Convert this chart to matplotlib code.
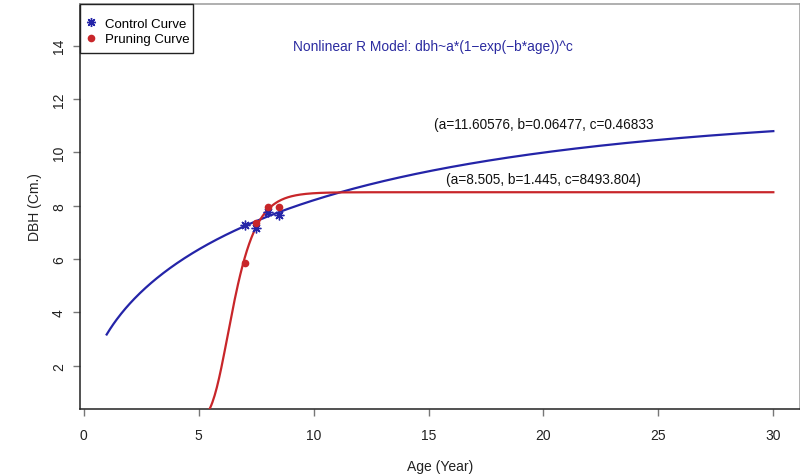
import numpy as np
import matplotlib
matplotlib.use("Agg")
import matplotlib.pyplot as plt
from matplotlib.lines import Line2D
from matplotlib.patches import Rectangle

plt.rcParams['font.family'] = ['Liberation Sans', 'DejaVu Sans']

# Observed mean DBH by age
ages = [7.0, 7.5, 8.0, 8.5]
control_dbh = [7.28, 7.17, 7.75, 7.67]
pruning_dbh = [5.87, 7.37, 7.94, 7.97]

# Fitted model parameters dbh = a*(1-exp(-b*age))^c
control_params = [11.60576, 0.06477, 0.46833]
pruning_params = [8.505, 1.445, 8493.804]
age_range = [1, 30]

x_ticks = [0, 5, 10, 15, 20, 25, 30]
y_ticks = [2, 4, 6, 8, 10, 12, 14]

BLUE = '#2424A8'
RED = '#C8262A'
TXTBLUE = '#2B2BA0'

def model(age, p):
    a, b, c = p
    return a * (1 - np.exp(-b * age)) ** c

fig = plt.figure(figsize=(8.0, 4.77), dpi=100)
ax = fig.add_axes([0.1, 1 - 410 / 477, 0.9, (410 - 5) / 477])

age_grid = np.linspace(age_range[0], age_range[1], 600)
ax.plot(age_grid, model(age_grid, control_params), color=BLUE, lw=1.6, zorder=3)
ax.plot(age_grid, model(age_grid, pruning_params), color=RED, lw=1.6, zorder=3)

ax.plot(ages, control_dbh, linestyle='none', marker=(8, 2, 0), markersize=7,
        markeredgewidth=1.0, color=BLUE, zorder=4)
ax.plot(ages, pruning_dbh, linestyle='none', marker='o', markersize=5.5,
        color=RED, markeredgewidth=0, zorder=4)

ax.set_xlim(-0.16, 31.16)
ax.set_ylim(0.38, 15.56)
ax.set_xticks(x_ticks)
ax.set_yticks(y_ticks)
ax.tick_params(axis='both', direction='out', length=5, width=1, color='#777777',
               labelsize=10, labelcolor='#222222')
ax.tick_params(axis='x', pad=8.5)
ax.tick_params(axis='y', pad=5)
for lab in ax.get_yticklabels():
    lab.set_rotation(90)
    lab.set_va('center')

ax.spines['left'].set_color('#222222')
ax.spines['bottom'].set_color('#222222')
ax.spines['top'].set_color('#9a9a9a')
ax.spines['right'].set_color('#9a9a9a')
for s in ax.spines.values():
    s.set_linewidth(1.1)

ax.set_xlabel('Age (Year)', fontsize=10, color='#222222', labelpad=12.5)
ax.set_ylabel('DBH (Cm.)', fontsize=10, color='#222222', labelpad=7.5)

ax.text(15.2, 14.0, 'Nonlinear R Model: dbh~a*(1\u2212exp(\u2212b*age))^c',
        color=TXTBLUE, fontsize=9.9, ha='center', va='center')
ax.text(20.0, 11.05, '(a=11.60576, b=0.06477, c=0.46833',
        color='#111111', fontsize=9.8, ha='center', va='center')
ax.text(20.0, 9.0, '(a=8.505, b=1.445, c=8493.804)',
        color='#111111', fontsize=9.8, ha='center', va='center')

# Legend: R-style box
ax_w, ax_h = 720.0, 405.0
box = Rectangle((0, 1 - 49 / ax_h), 113 / ax_w, 49 / ax_h, transform=ax.transAxes,
                facecolor='white', edgecolor='#222222', linewidth=1.0, zorder=5,
                clip_on=False)
ax.add_patch(box)
handles = [
    Line2D([], [], linestyle='none', marker=(8, 2, 0), markersize=6.5,
           markeredgewidth=1.0, color=BLUE),
    Line2D([], [], linestyle='none', marker='o', markersize=5.5,
           markeredgewidth=0, color=RED),
]
leg = ax.legend(handles, ['Control Curve', 'Pruning Curve'], loc='upper left',
                bbox_to_anchor=(7 / ax_w, 1 - 13.5 / ax_h), frameon=False,
                fontsize=9.5, borderaxespad=0, handlelength=0.6,
                handletextpad=0.76, borderpad=0, labelspacing=0.24)
leg.set_zorder(6)

fig.savefig('out.png', dpi=100)
